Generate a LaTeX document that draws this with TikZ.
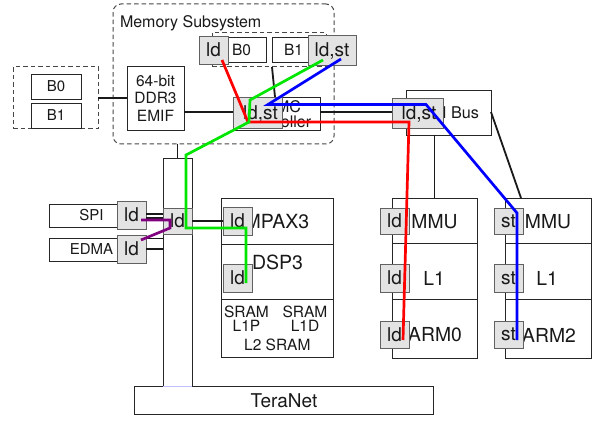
\documentclass[tikz,border=0pt]{standalone}
\usepackage{fontspec}
\setmainfont{TeX Gyre Heros}
\newcommand\fsz[2]{\fontsize{#1}{#2}\selectfont}
\newcommand\rb[6]{\node[#1,minimum width={(#4)-(#2)},minimum height={(#5)-(#3)}] (#6) at ({((#2)+(#4))/2},{((#3)+(#5))/2}) {};}
\begin{document}
\begin{tikzpicture}[x=1pt,y=-1pt,
  box/.style={draw=black!85,line width=0.9pt,fill=white,inner sep=0pt,outer sep=0pt},
  gbox/.style={draw=black!62,line width=0.9pt,fill=black!11,inner sep=0pt,outer sep=0pt},
  dbox/.style={draw=black!72,line width=1pt,dash pattern=on 4.5pt off 3pt,inner sep=0pt,outer sep=0pt},
  conn/.style={line width=1.8pt,black!90},
  wire/.style={line width=2.7pt,line join=miter},
  txt/.style={inner sep=0pt,outer sep=0pt,text=black!90,align=center},
  glabel/.style={txt,font=\fsz{19}{21}}
]
\useasboundingbox[fill=white] (0,0) rectangle (602,422);

% ---------- Memory subsystem ----------
\rb{dbox,rounded corners=8pt}{113}{4}{334}{144}{memsub}
\node[txt,font=\fsz{16}{18},anchor=base west] (memsubt) at (120,27.3) {Memory Subsystem};

% external DDR chips
\rb{dbox}{13}{67}{98}{129}{ddrext}
\rb{box}{31}{74}{81}{99}{extb0}
\rb{box}{31}{103}{81}{128}{extb1}
\node[txt,font=\fsz{15}{17}] (extb0t) at (extb0) {B0};
\node[txt,font=\fsz{15}{17}] (extb1t) at (extb1) {B1};

% EMIF
\rb{box}{127}{66}{184}{130}{emif}
\node[txt,font=\fsz{15.5}{17.5}] (emift) at (155.5,98) {64-bit\\DDR3\\EMIF};

% internal shared memory banks
\rb{dbox}{212}{33}{326}{67}{msmem}
\rb{box}{228}{37}{266}{62}{mb0}
\rb{box}{272}{37}{311}{62}{mb1}
\node[txt,font=\fsz{15.5}{17}] (mb0t) at (241.5,49.5) {B0};
\node[txt,font=\fsz{15.5}{17}] (mb1t) at (293.5,49.5) {B1};
\rb{gbox}{199}{36}{228}{64}{mbld}
\node[glabel] (mbldt) at (213.5,50) {ld};
\rb{gbox}{308}{35}{356}{65}{mbldst}
\node[glabel] (mbldstt) at (332,51) {ld,st};

% MSMC controller
\rb{box}{233}{97}{320}{130}{msmc}
\node[txt,font=\fsz{16}{15}] (msmct) at (276.5,114) {MSMC\\Controller};
\rb{gbox}{233}{97}{282}{128}{msmcld}
\node[glabel] (msmcldt) at (260.5,113.5) {ld,st};

% connectors in memory subsystem
\draw[conn] (ddrext.east) -- (emif.west);
\draw[conn] (emif.east |- 0,112) -- (msmcld.west |- 0,112);
\coordinate (mm1) at (msmem.south -| 272,0);
\coordinate (mm2) at (msmc.north -| 275,0);
\draw[conn] (mm1) -- (mm2);

% ---------- Bus ----------
\rb{box}{406}{90}{491}{135}{bus}
\node[txt,font=\fsz{16.2}{18}] (bust) at (449.8,113) {AXI Bus};
\rb{gbox}{392}{98}{443}{128}{busld}
\node[glabel] (busldt) at (419,114) {ld,st};
\draw[conn] (msmc.east |- 0,112) -- (busld.west |- 0,112);

% ---------- ARM0 ----------
\rb{box}{392}{198}{477}{243}{arm0mmu}
\rb{box}{392}{243}{477}{299}{arm0l1}
\rb{box}{392}{299}{477}{358}{arm0core}
\node[txt,font=\fsz{19.3}{21}] (arm0mmut) at (434.5,221.5) {MMU};
\node[txt,font=\fsz{19.3}{21}] (arm0l1t) at (434,278.3) {L1};
\node[txt,font=\fsz{19.3}{21}] (arm0coret) at (435,335) {ARM0};
\rb{gbox}{380}{208}{409}{234}{a0g1}
\rb{gbox}{380}{264}{409}{292}{a0g2}
\rb{gbox}{380}{321}{409}{348}{a0g3}
\node[glabel] (a0g1t) at (a0g1) {ld};
\node[glabel] (a0g2t) at (a0g2) {ld};
\node[glabel] (a0g3t) at (a0g3) {ld};

% ---------- ARM2 ----------
\rb{box}{505}{198}{591}{243}{arm2mmu}
\rb{box}{505}{243}{591}{299}{arm2l1}
\rb{box}{505}{299}{591}{358}{arm2core}
\node[txt,font=\fsz{19.3}{21}] (arm2mmut) at (548,221.5) {MMU};
\node[txt,font=\fsz{19.3}{21}] (arm2l1t) at (547,278.3) {L1};
\node[txt,font=\fsz{19.3}{21}] (arm2coret) at (549,335) {ARM2};
\rb{gbox}{494}{208}{523}{234}{a2g1}
\rb{gbox}{494}{264}{523}{292}{a2g2}
\rb{gbox}{494}{321}{523}{348}{a2g3}
\node[glabel] (a2g1t) at (a2g1) {st};
\node[glabel] (a2g2t) at (a2g2) {st};
\node[glabel] (a2g3t) at (a2g3) {st};

% bus connectors
\draw[conn] (bus.south -| arm0mmu.north) -- (arm0mmu.north);
\coordinate (a2top) at (arm2mmu.north -| 521,0);
\draw[conn] (bus.east |- 0,112) -- (a2top);

% ---------- TeraNet column ----------
\rb{box}{163}{158}{192}{386}{col}
\draw[conn] (col.north |- memsub.south) -- (col.north);
\rb{gbox}{163}{208}{192}{234}{colld}
\node[glabel] (colldt) at (colld) {ld};

\rb{box}{134}{386}{433}{414}{teranet}
\node[txt,font=\fsz{19}{21}] (teranett) at (284,401) {TeraNet};
\draw[line width=0.9pt,blue!25] (col.south west) -- (col.south east);

% SPI / EDMA
\rb{box}{49}{204}{133}{227}{spi}
\rb{box}{49}{238}{133}{261}{edma}
\node[txt,font=\fsz{15}{17}] (spit) at (91.5,215.5) {SPI};
\node[txt,font=\fsz{15}{17}] (edmat) at (91.5,249.5) {EDMA};
\rb{gbox}{117}{201}{146}{229}{spild}
\rb{gbox}{117}{235}{146}{263}{edmald}
\node[glabel] (spildt) at (spild) {ld};
\node[glabel] (edmaldt) at (edmald) {ld};
\draw[conn,line width=1.3pt] (spild.east |- 0,214) -- (col.west |- 0,214);
\draw[conn,line width=1.3pt] (spild.east |- 0,218) -- (col.west |- 0,218);
\draw[conn,line width=1.3pt] (edmald.east |- 0,238.5) -- (col.west |- 0,238.5);
\draw[conn,line width=1.3pt] (edmald.east |- 0,249) -- (col.west |- 0,249);

% ---------- DSP3 ----------
\rb{box}{221}{198}{333}{244}{mpax}
\rb{box}{221}{244}{333}{299}{dsp}
\rb{box}{221}{299}{333}{357}{sram}
\node[txt,font=\fsz{19.5}{21}] (mpaxt) at (277,221.7) {MPAX3};
\node[txt,font=\fsz{19.5}{21}] (dspt) at (277.5,262.8) {DSP3};
\node[txt,font=\fsz{15.5}{13.5}] (l1pt) at (246.5,318.5) {SRAM\\L1P};
\node[txt,font=\fsz{15.5}{13.5}] (l1dt) at (305,318.5) {SRAM\\L1D};
\node[txt,font=\fsz{15.5}{17}] (l2t) at (277.3,345) {L2 SRAM};
\rb{gbox}{223}{207}{252}{235}{mpaxld}
\rb{gbox}{223}{264}{252}{292}{dspld}
\node[glabel] (mpaxldt) at (mpaxld) {ld};
\node[glabel] (dspldt) at (dspld) {ld};
\draw[conn] (colld.east) -- (mpaxld.west);

% ---------- coloured access paths ----------
\coordinate (r1) at (222,60);
\coordinate (r2) at (248,122);
\coordinate (r3) at (409,122);
\coordinate (r4) at (403,340);
\draw[wire,red] (r1) -- (r2) -- (r3) -- (r4);

\coordinate (b1) at (341,59);
\coordinate (b2) at (268,104.5);
\coordinate (b3) at (426,104.5);
\coordinate (b4) at (517,213);
\coordinate (b5) at (517,340);
\draw[wire,blue] (b1) -- (b2) -- (b3) -- (b4) -- (b5);

\coordinate (g1) at (323,60);
\coordinate (g2) at (250,100);
\coordinate (g3) at (249,122);
\coordinate (g4) at (186,155);
\coordinate (g5) at (186,228);
\coordinate (g6) at (246,228);
\coordinate (g7) at (246,283);
\definecolor{wgreen}{RGB}{0,230,0}
\definecolor{wpurple}{RGB}{128,0,128}
\draw[wire,wgreen] (g1) -- (g2) -- (g3) -- (g4) -- (g5) -- (g6) -- (g7);

\coordinate (p1) at (141,220);
\coordinate (p2) at (170,220);
\coordinate (p3) at (170,228);
\coordinate (p4) at (141,240);
\draw[wire,wpurple] (p1) -- (p2) -- (p3) -- (p4);
\end{tikzpicture}
\end{document}
